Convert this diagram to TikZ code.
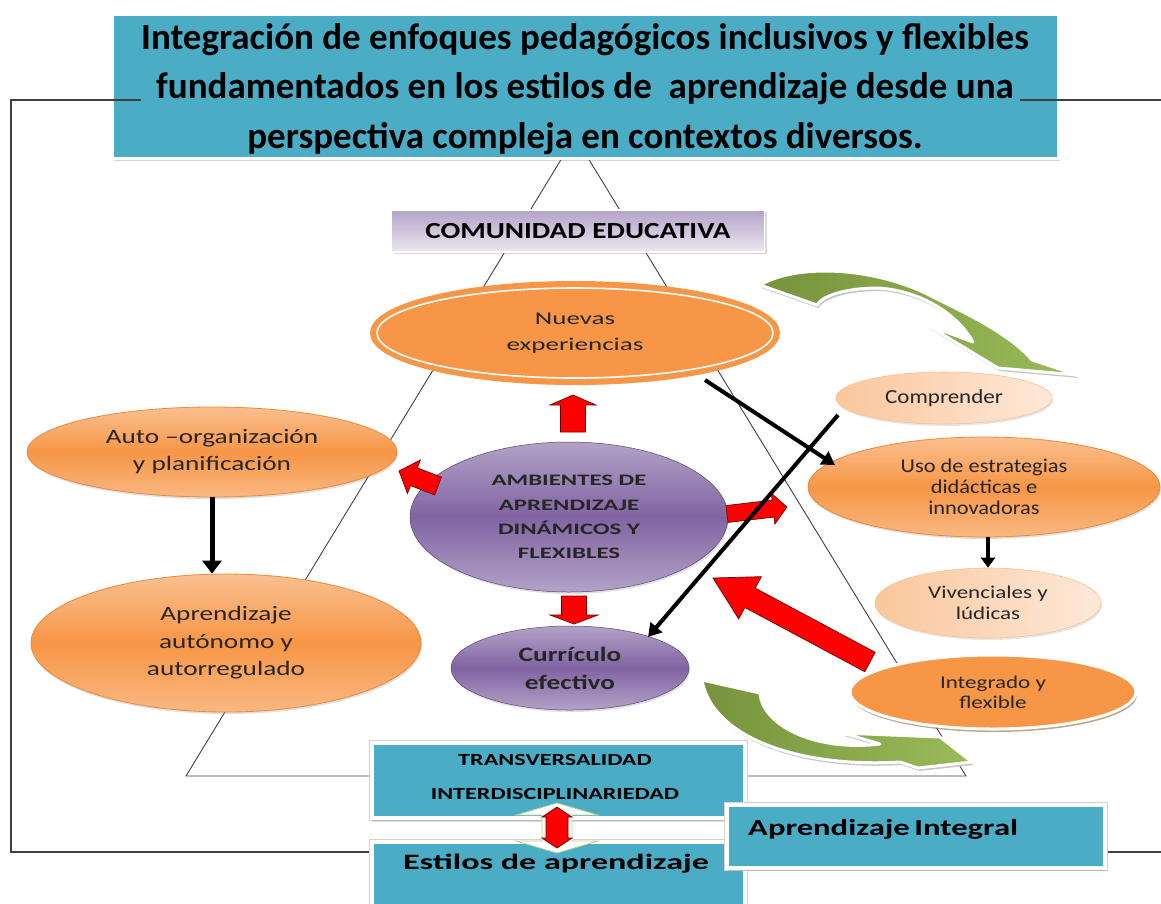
\documentclass[tikz,border=0pt]{standalone}
\usepackage{fontspec}
\setmainfont{Carlito}
\newfontfamily\fsA[FakeStretch=1.5]{Carlito}
\newfontfamily\fsB[FakeStretch=1.33]{Carlito}
\newfontfamily\fsC[FakeStretch=1.55]{Carlito}
\newfontfamily\fsD[FakeStretch=1.15]{Carlito}
\newfontfamily\fsE[FakeStretch=1.27]{Carlito}
\newfontfamily\fsF[FakeStretch=1.28]{Carlito}
\newfontfamily\fsG[FakeStretch=1.42]{Carlito}
\newfontfamily\fsH[FakeStretch=1.55]{Carlito}
\usetikzlibrary{shapes.geometric,calc,arrows.meta,shadows}
\definecolor{cyanbox}{HTML}{4BACC6}
\definecolor{orng}{HTML}{F79646}
\definecolor{orngL}{HTML}{FAC090}
\definecolor{orngD}{HTML}{E46C0A}
\definecolor{purp}{HTML}{8064A2}
\definecolor{purpL}{HTML}{B3A2C7}
\definecolor{peach}{HTML}{FDE9D9}
\definecolor{grnD}{HTML}{77933C}
\definecolor{grnL}{HTML}{9BBB59}
\definecolor{lineG}{HTML}{404040}
\definecolor{txt}{HTML}{262626}
% tail, tip, shaft half width, head half width, head length
\newcommand\blockarr[5]{%
  \coordinate (bh) at ($(#2)!#5!(#1)$);
  \filldraw[redarr] ($(#1)!#3!90:(#2)$) -- ($(bh)!#3!-90:(#1)$) -- ($(bh)!#4!-90:(#1)$) -- (#2)
    -- ($(bh)!#4!90:(#1)$) -- ($(bh)!#3!90:(#1)$) -- ($(#1)!#3!-90:(#2)$) -- cycle;
}
\newcommand\topgreen{(760,285) .. controls (800,262) and (880,268) .. (935,298)
  .. controls (985,322) and (1015,340) .. (1032,360) -- (1078,375) -- (998,368) -- (927,325)
  -- (973,342) .. controls (955,310) and (915,290) .. (878,288)
  .. controls (845,288) and (822,296) .. (817,305) -- cycle}
\newcommand\botgreen{(702,680) .. controls (712,738) and (800,768) .. (900,762)
  -- (918,768) -- (972,762) -- (940,737) -- (843,733) -- (880,744)
  .. controls (815,752) and (762,725) .. (760,693) -- cycle}
\begin{document}
\begin{tikzpicture}[x=1pt,y=-1pt,
  frame/.style={draw=lineG, line width=1.1pt},
  tri/.style={draw=lineG, line width=0.9pt},
  titlebox/.style={rectangle, fill=cyanbox, draw=white, line width=3pt, inner sep=0pt,
    minimum width=946pt, minimum height=144pt, align=center, text=black,
    font=\bfseries\fontsize{37}{49.5}\selectfont,
    drop shadow={opacity=0.35, shadow xshift=2pt, shadow yshift=-3pt}},
  combox/.style={rectangle, top color=purpL, bottom color=purpL!25!white, draw=white,
    line width=1.5pt, inner sep=0pt, minimum width=373pt, minimum height=42pt,
    font=\fsE\bfseries\fontsize{23}{23}\selectfont, text=black,
    drop shadow={opacity=0.3, shadow xshift=2pt, shadow yshift=-2pt}},
  orell/.style={ellipse, inner sep=0pt, align=center, text=txt, draw=orngD!80,
    line width=0.8pt, top color=orngL, bottom color=orngL!80!orng, middle color=orng,
    drop shadow={opacity=0.25, shadow xshift=1pt, shadow yshift=-2pt}},
  purell/.style={ellipse, inner sep=0pt, align=center, text=txt, draw=purp!70!black,
    line width=0.5pt, top color=purpL, bottom color=purpL, middle color=purp,
    drop shadow={opacity=0.25, shadow xshift=1pt, shadow yshift=-2pt}},
  peachell/.style={ellipse, inner sep=0pt, align=center, text=txt, draw=orngL,
    line width=0.6pt, left color=orngL!90!white, right color=peach,
    drop shadow={opacity=0.2, shadow xshift=1pt, shadow yshift=-2pt}},
  cbox/.style={rectangle, fill=cyanbox, draw=white, line width=4pt, inner sep=0pt,
    preaction={draw=gray!35, line width=6pt}},
  redarr/.style={fill=red, draw=red!45!black, line width=0.7pt, line join=miter},
  blk/.style={draw=black, line width=4pt, -{Triangle[width=15pt,length=13pt]}},
  grnarr/.style={left color=grnD, right color=grnL, draw=white, line width=3pt, line join=round}
]
\useasboundingbox (0,0) rectangle (1161,903);

% triangle
\coordinate (tL) at (562,158);
\coordinate (tR) at (588,158);
\coordinate (bL) at (186,776);
\coordinate (bR) at (966,776);
\coordinate (bLi) at (372,776);
\coordinate (bRi) at (745,776);
\draw[tri] (bLi) -- (bL) -- (tL);
\draw[tri] (tR) -- (bR) -- (bRi);

% title
\node[titlebox] (title) at (585,86) {};
\node[align=center, text=black, font=\bfseries\fontsize{37}{49.5}\selectfont, inner sep=0pt] (titleT) at (585,89) {Integración de enfoques pedagógicos inclusivos y flexibles\\
fundamentados en los estilos de\ \ aprendizaje desde una\\
perspectiva compleja en contextos diversos.};

% outer frame
\coordinate (f1) at (141,100);
\coordinate (f2) at (11,100);
\coordinate (f3) at (11,852);
\coordinate (f4) at (372,852);
\coordinate (f5) at (1020,100);
\coordinate (f6) at (1161,100);
\coordinate (f7) at (1105,852);
\coordinate (f8) at (1161,852);
\draw[frame] (f1) -- (f2) -- (f3) -- (f4);
\draw[frame] (f5) -- (f6);
\draw[frame] (f7) -- (f8);

% comunidad
\node[combox] (com) at (578,231) {COMUNIDAD EDUCATIVA};

% green curved arrows
\fill[gray!45, shift={(1.5,3)}] \topgreen;
\filldraw[grnarr] \topgreen;
\fill[gray!45, shift={(1.5,3)}] \botgreen;
\filldraw[grnarr] \botgreen;

% big red arrow (behind ellipses)
\coordinate (bigT) at (870,662);
\coordinate (bigH) at (713,578);
\blockarr{bigT}{bigH}{11pt}{24pt}{42pt}

% ellipses
\node[ellipse, inner sep=0pt, align=center, text=txt, fill=orng, draw=orng, line width=4pt,
  minimum width=406pt, minimum height=100pt, font=\fsA\fontsize{18}{26}\selectfont,
  drop shadow={opacity=0.2, shadow xshift=1pt, shadow yshift=-2pt}] (nuevas) at (575,333) {Nuevas\\experiencias};
\draw[white, line width=1.6pt] (nuevas.center) ellipse [x radius=198, y radius=45];

\node[orell, minimum width=370pt, minimum height=90pt, font=\fsB\fontsize{20.5}{27}\selectfont] (auto) at (212,452) {Auto –organización\\y planificación};
\node[orell, minimum width=390pt, minimum height=138pt, font=\fsB\fontsize{20.5}{27.5}\selectfont] (autonomo) at (226,643) {Aprendizaje\\autónomo y\\autorregulado};
\node[purell, minimum width=318pt, minimum height=150pt, font=\fsC\bfseries\fontsize{16}{24.3}\selectfont] (amb) at (569,517) {AMBIENTES DE\\APRENDIZAJE\\DINÁMICOS Y\\FLEXIBLES};
\node[purell, minimum width=238pt, minimum height=84pt, font=\fsB\bfseries\fontsize{20.5}{28}\selectfont] (curr) at (570,668) {Currículo\\efectivo};
\node[peachell, minimum width=216pt, minimum height=52pt, font=\fsD\fontsize{20}{22}\selectfont] (comp) at (944,398) {Comprender};
\node[orell, minimum width=352pt, minimum height=100pt, font=\fsD\fontsize{19.5}{21}\selectfont] (uso) at (984,487) {Uso de estrategias\\didácticas e\\innovadoras};
\node[peachell, minimum width=226pt, minimum height=70pt, font=\fsF\fontsize{18}{21}\selectfont] (viv) at (988,603) {Vivenciales y\\lúdicas};
\node[ellipse, inner sep=0pt, align=center, text=txt, fill=orng, draw=white, line width=3pt,
  minimum width=286pt, minimum height=74pt, font=\fsF\fontsize{18}{20}\selectfont,
  drop shadow={opacity=0.45, shadow xshift=1pt, shadow yshift=-3pt, fill=orngD!50!black}] (integ) at (993,692) {Integrado y\\flexible};

% red block arrows around the centre
\coordinate (upT) at (573,432);
\coordinate (upH) at (573,395);
\blockarr{upT}{upH}{12.5pt}{23pt}{10pt}
\coordinate (dnT) at (574,596);
\coordinate (dnH) at (574,624);
\blockarr{dnT}{dnH}{12.5pt}{24pt}{9pt}
\coordinate (lfT) at (438,486);
\coordinate (lfH) at (399,471);
\blockarr{lfT}{lfH}{9.5pt}{18pt}{16pt}
\coordinate (rtT) at (727,514);
\coordinate (rtH) at (787,507);
\blockarr{rtT}{rtH}{8.5pt}{15.5pt}{14pt}

% black arrows
\draw[blk, line width=5pt, -{Triangle[width=19pt,length=13pt]}] (auto.south) -- (auto.south |- autonomo.north);
\coordinate (a1s) at (705,380);
\coordinate (a1e) at (835,465);
\draw[blk] (a1s) -- (a1e);
\coordinate (a2s) at (838,415);
\coordinate (a2e) at (648,637);
\draw[blk] (a2s) -- (a2e);
\draw[blk, line width=4pt, -{Triangle[width=14pt,length=10pt]}] (uso.south -| viv.north) coordinate (a3s) -- (a3s |- viv.north);

% bottom boxes
\node[cbox, minimum width=373pt, minimum height=75pt,
  drop shadow={opacity=0.3, shadow xshift=0pt, shadow yshift=-4pt}] (trans) at (558.5,780.5) {};
\node[font=\fsG\bfseries\fontsize{17}{34}\selectfont, align=center, text=black] (transT) at (555,777) {TRANSVERSALIDAD\\INTERDISCIPLINARIEDAD};
\node[cbox, minimum width=373pt, minimum height=68pt] (estilos) at (558.5,876) {};
\node[font=\fsH\bfseries\fontsize{22}{22}\selectfont, text=black] (estilosT) at (556,864) {Estilos de aprendizaje};
\node[cbox, minimum width=378pt, minimum height=63pt,
  drop shadow={opacity=0.3, shadow xshift=1pt, shadow yshift=-3pt}] (aprint) at (916,836.5) {};
\node[font=\fsG\bfseries\fontsize{23}{23}\selectfont, text=black, anchor=west, inner sep=0pt] (aprintT) at (748,829) {Aprendizaje\hspace{-0.12em} Integral};

% double arrow between bottom boxes
\filldraw[fill=white, draw=grnL!70, line width=0.8pt] (557,803) -- (598,815) -- (572,815) -- (572,841) -- (598,841)
  -- (557,853) -- (516,841) -- (542,841) -- (542,815) -- (516,815) -- cycle;
\filldraw[redarr] (557,807) -- (572,817) -- (568,817) -- (568,838) -- (572,838) -- (557,848)
  -- (542,838) -- (546,838) -- (546,817) -- (542,817) -- cycle;
\end{tikzpicture}
\end{document}
